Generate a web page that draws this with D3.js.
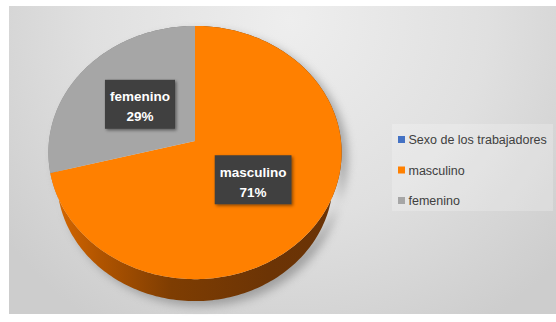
<!DOCTYPE html>
<html>
<head>
<meta charset="utf-8">
<script src="https://cdn.jsdelivr.net/npm/d3@7"></script>
<style>
  html, body { margin: 0; padding: 0; background: #ffffff; }
  svg { display: block; }
</style>
</head>
<body>
<svg id="chart" width="556" height="322"></svg>
<script>
// Workforce by sex (percent)
const categories = ["masculino", "femenino"];
const shares = [71, 29];
const sliceColors = ["#ff8000", "#a6a6a6"];

// Legend entries (series name first, then categories)
const legendLabels = ["Sexo de los trabajadores", "masculino", "femenino"];
const legendColors = ["#4472c4", "#ff8000", "#a6a6a6"];

const svg = d3.select("#chart");
const defs = svg.append("defs");

// ---- background panel ----
const bg = defs.append("radialGradient")
  .attr("id", "bgGrad").attr("gradientUnits", "userSpaceOnUse")
  .attr("cx", 290).attr("cy", 20).attr("r", 360);
bg.append("stop").attr("offset", 0).attr("stop-color", "#eeeeee");
bg.append("stop").attr("offset", 0.55).attr("stop-color", "#e0e0e0");
bg.append("stop").attr("offset", 1).attr("stop-color", "#cdcdcd");
svg.append("rect").attr("x", 9).attr("y", 6).attr("width", 547).attr("height", 308)
  .attr("fill", "url(#bgGrad)");

// ---- perspective projection of a flat disk seen from above ----
const cx = 195, cy = 141, R = 146;
const sinP = 0.86, cosP = Math.sqrt(1 - sinP * sinP);
const D = 5.6;       // camera distance (in radii)
const H = 0.4;       // disk thickness (in radii)

// angle: clockwise from 12 o'clock; r: radius fraction; y: height (0 = top face)
function project(angle, r, y) {
  const X = r * Math.sin(angle), Z = -r * Math.cos(angle);
  const yc = Z * sinP - y * cosP;
  const zc = Z * cosP + y * sinP;
  const s = D / (D - zc);
  return [cx + R * X * s, cy + R * yc * s];
}

function arcPoints(a0, a1, y) {
  const n = Math.max(2, Math.ceil(Math.abs(a1 - a0) / 0.02));
  return d3.range(n + 1).map(i => project(a0 + (a1 - a0) * i / n, 1, y));
}

const line = d3.line().curve(d3.curveLinearClosed);

const pie = d3.pie().sort(null).value(d => d)(shares);

// ---- soft shadow under the disk ----
const shadowF = defs.append("filter").attr("id", "pieShadow")
  .attr("x", "-20%").attr("y", "-20%").attr("width", "140%").attr("height", "140%");
shadowF.append("feGaussianBlur").attr("stdDeviation", 5);

svg.append("path")
  .attr("d", line(arcPoints(-Math.PI / 2, Math.PI * 1.5, -H).concat(arcPoints(Math.PI * 1.5, -Math.PI / 2, 0))))
  .attr("transform", "translate(6,5)")
  .attr("fill", "#7a7a7a").attr("opacity", 0.6)
  .attr("filter", "url(#pieShadow)");

// ---- outer walls ----
const wallOrange = defs.append("linearGradient").attr("id", "wallOrange")
  .attr("gradientUnits", "userSpaceOnUse").attr("x1", 48).attr("x2", 342).attr("y1", 0).attr("y2", 0);
[[0, "#dc6a00"], [0.18, "#b05400"], [0.42, "#7e3d02"], [0.75, "#6c3405"], [1, "#6a3306"]]
  .forEach(([o, c]) => wallOrange.append("stop").attr("offset", o).attr("stop-color", c));
const wallGray = defs.append("linearGradient").attr("id", "wallGray")
  .attr("gradientUnits", "userSpaceOnUse").attr("x1", 48).attr("x2", 342).attr("y1", 0).attr("y2", 0);
[[0, "#8a8a8a"], [1, "#5e5e5e"]]
  .forEach(([o, c]) => wallGray.append("stop").attr("offset", o).attr("stop-color", c));
const wallFills = ["url(#wallOrange)", "url(#wallGray)"];

svg.append("g").selectAll("path")
  .data(pie)
  .join("path")
  .attr("d", d => line(arcPoints(d.startAngle, d.endAngle, 0).concat(arcPoints(d.endAngle, d.startAngle, -H))))
  .attr("fill", (d, i) => wallFills[i]);

// ---- top faces ----
svg.append("g").selectAll("path")
  .data(pie)
  .join("path")
  .attr("d", d => line([project(0, 0, 0)].concat(arcPoints(d.startAngle, d.endAngle, 0))))
  .attr("fill", (d, i) => sliceColors[i]);

// ---- data labels ----
const lblShadow = defs.append("filter").attr("id", "lblShadow")
  .attr("x", "-20%").attr("y", "-20%").attr("width", "150%").attr("height", "150%");
lblShadow.append("feDropShadow").attr("dx", 1.5).attr("dy", 1.5).attr("stdDeviation", 1.5)
  .attr("flood-color", "#000").attr("flood-opacity", 0.45);

const total = d3.sum(shares);
const labels = svg.append("g").selectAll("g")
  .data(pie)
  .join("g")
  .attr("transform", d => {
    const mid = (d.startAngle + d.endAngle) / 2;
    const [x, y] = project(mid, 0.49, 0);
    return `translate(${x},${y})`;
  });

labels.each(function(d, i) {
  const g = d3.select(this);
  const rect = g.append("rect").attr("fill", "#3f3f3f").attr("filter", "url(#lblShadow)");
  const t1 = g.append("text").attr("text-anchor", "middle").attr("y", -3)
    .attr("font-family", "'Liberation Sans', Arial, sans-serif").attr("font-weight", "bold")
    .attr("font-size", 13.5).attr("fill", "#ffffff").text(categories[i]);
  const t2 = g.append("text").attr("text-anchor", "middle").attr("y", 17)
    .attr("font-family", "'Liberation Sans', Arial, sans-serif").attr("font-weight", "bold")
    .attr("font-size", 13.5).attr("fill", "#ffffff")
    .text(Math.round(d.value / total * 100) + "%");
  const w = Math.max(t1.node().getComputedTextLength(), t2.node().getComputedTextLength()) + 10;
  rect.attr("x", -w / 2).attr("y", -24.5).attr("width", w).attr("height", 49);
});

// ---- legend ----
svg.append("rect").attr("x", 392).attr("y", 124).attr("width", 161).attr("height", 87)
  .attr("fill", "#ffffff").attr("opacity", 0.22);

const legend = svg.append("g").selectAll("g")
  .data(legendLabels)
  .join("g")
  .attr("transform", (d, i) => `translate(398,${144 + i * 30.5})`);
legend.append("rect").attr("x", 0).attr("y", -8).attr("width", 7).attr("height", 7)
  .attr("fill", (d, i) => legendColors[i]);
legend.append("text").attr("x", 10.5).attr("y", 0)
  .attr("font-family", "'Liberation Sans', Arial, sans-serif").attr("font-size", 12.5)
  .attr("fill", "#404040").text(d => d);
</script>
</body>
</html>
